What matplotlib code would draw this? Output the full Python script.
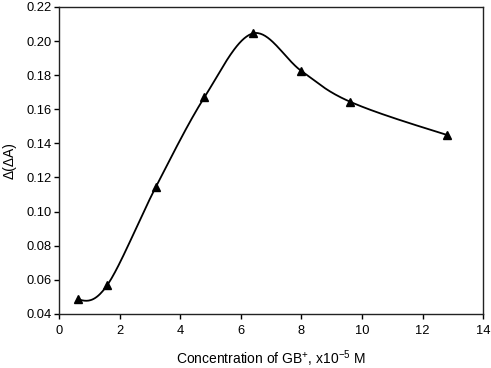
import numpy as np
import matplotlib
matplotlib.use('Agg')
import matplotlib.pyplot as plt

plt.rcParams['font.family'] = ['Liberation Sans', 'DejaVu Sans']
plt.rcParams['mathtext.fontset'] = 'custom'
plt.rcParams['mathtext.rm'] = 'Liberation Sans'

# data
conc = [0.64, 1.6, 3.2, 4.8, 6.4, 8.0, 9.6, 12.8]
dda = [0.0485, 0.057, 0.1145, 0.167, 0.2045, 0.1825, 0.1645, 0.145]


# smoothed line through the points (bezier, like a spreadsheet "smooth line")
def smooth(x, y, n=40):
    p = np.column_stack([x, y]).astype(float)
    m = len(p)
    t = np.linspace(0, 1, n)[:, None]
    out = []
    for i in range(m - 1):
        p0, p3 = p[i], p[i + 1]
        c1 = p0 + (p[i + 1] - p[i - 1]) / 6 if i > 0 else None
        c2 = p3 - (p[i + 2] - p[i]) / 6 if i < m - 2 else None
        # free ends: no bending at the end points
        if c1 is None:
            c1 = (p0 + c2) / 2
        if c2 is None:
            c2 = (p3 + c1) / 2
        b = (1 - t) ** 3 * p0 + 3 * (1 - t) ** 2 * t * c1 + 3 * (1 - t) * t ** 2 * c2 + t ** 3 * p3
        out.append(b)
    out = np.vstack(out)
    return out[:, 0], out[:, 1]


fig = plt.figure(figsize=(4.91, 3.68), dpi=100)
ax = fig.add_axes([0.120, 0.147, 0.864, 0.834])

sx, sy = smooth(conc, dda)
ax.plot(sx, sy, color='black', lw=1.3)
ax.plot(conc, dda, linestyle='none', marker='^', color='black', markersize=5.5)

ax.set_xlim(0, 14)
ax.set_ylim(0.04, 0.22)
ax.set_xticks(np.arange(0, 15, 2))
ax.set_yticks(np.arange(0.04, 0.2201, 0.02))
ax.set_yticklabels(['%.2f' % v for v in np.arange(0.04, 0.2201, 0.02)])
ax.tick_params(direction='out', length=3.5, width=1, labelsize=9.3, top=False, right=False)
ax.tick_params(axis='x', pad=4.3)
ax.tick_params(axis='y', pad=1.8)
for s in ax.spines.values():
    s.set_linewidth(1)
    s.set_color('#222222')

ax.set_xlabel('Concentration of GB$^{+}$, x10$^{-5}$ M', fontsize=10)
ax.set_ylabel('\u0394(\u0394A)', fontsize=10)
ax.xaxis.set_label_coords(0.5, -0.113)
ax.yaxis.set_label_coords(-0.099, 0.5)

fig.savefig('out.png', dpi=100)
